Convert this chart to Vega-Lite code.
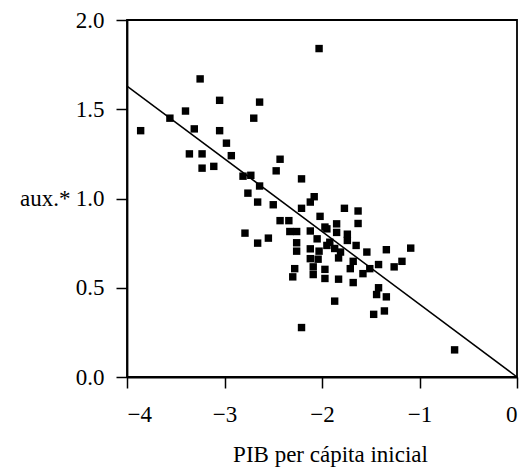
{
  "$schema": "https://vega.github.io/schema/vega-lite/v6.json",
  "width": 390,
  "height": 357,
  "autosize": {"type": "none"},
  "padding": {"left": 127, "top": 20, "right": 9, "bottom": 93},
  "background": "white",
  "config": {
    "view": {"stroke": "black", "strokeWidth": 1.8},
    "axis": {
      "grid": false,
      "domainColor": "black",
      "domainWidth": 1.8,
      "tickColor": "black",
      "tickWidth": 1.5,
      "tickSize": 11,
      "labelFont": "Liberation Serif",
      "labelFontSize": 23,
      "labelColor": "black",
      "titleFont": "Liberation Serif",
      "titleFontSize": 23,
      "titleFontWeight": "normal",
      "titleColor": "black"
    }
  },
  "layer": [
    {
      "data": {
        "values": [
          {"pib": -3.86, "aux": 1.38}, {"pib": -3.56, "aux": 1.45}, {"pib": -3.40, "aux": 1.49},
          {"pib": -3.25, "aux": 1.67}, {"pib": -3.31, "aux": 1.39}, {"pib": -3.05, "aux": 1.55},
          {"pib": -3.05, "aux": 1.38}, {"pib": -2.98, "aux": 1.31}, {"pib": -3.36, "aux": 1.25},
          {"pib": -3.23, "aux": 1.25}, {"pib": -2.93, "aux": 1.24}, {"pib": -3.23, "aux": 1.17},
          {"pib": -3.11, "aux": 1.18}, {"pib": -2.64, "aux": 1.54}, {"pib": -2.70, "aux": 1.45},
          {"pib": -2.43, "aux": 1.22}, {"pib": -2.47, "aux": 1.155}, {"pib": -2.81, "aux": 1.125},
          {"pib": -2.73, "aux": 1.13}, {"pib": -2.64, "aux": 1.07}, {"pib": -2.76, "aux": 1.03},
          {"pib": -2.66, "aux": 0.98}, {"pib": -2.50, "aux": 0.965}, {"pib": -2.21, "aux": 1.11},
          {"pib": -2.21, "aux": 0.945}, {"pib": -2.12, "aux": 0.98}, {"pib": -2.08, "aux": 1.01},
          {"pib": -2.03, "aux": 1.84}, {"pib": -2.02, "aux": 0.90}, {"pib": -1.77, "aux": 0.945},
          {"pib": -1.63, "aux": 0.93}, {"pib": -2.43, "aux": 0.876}, {"pib": -2.34, "aux": 0.876},
          {"pib": -2.79, "aux": 0.806}, {"pib": -2.66, "aux": 0.75}, {"pib": -2.55, "aux": 0.778},
          {"pib": -2.33, "aux": 0.815}, {"pib": -2.26, "aux": 0.815}, {"pib": -2.12, "aux": 0.818},
          {"pib": -1.97, "aux": 0.84}, {"pib": -2.05, "aux": 0.774}, {"pib": -2.26, "aux": 0.752},
          {"pib": -2.26, "aux": 0.705}, {"pib": -2.12, "aux": 0.718}, {"pib": -2.03, "aux": 0.705},
          {"pib": -1.95, "aux": 0.737}, {"pib": -2.12, "aux": 0.663}, {"pib": -2.04, "aux": 0.66},
          {"pib": -2.28, "aux": 0.607}, {"pib": -2.09, "aux": 0.617}, {"pib": -1.97, "aux": 0.603},
          {"pib": -2.09, "aux": 0.574}, {"pib": -1.97, "aux": 0.552}, {"pib": -2.30, "aux": 0.561},
          {"pib": -2.21, "aux": 0.277}, {"pib": -1.63, "aux": 0.86}, {"pib": -1.85, "aux": 0.858},
          {"pib": -1.95, "aux": 0.83}, {"pib": -1.85, "aux": 0.81}, {"pib": -1.74, "aux": 0.80},
          {"pib": -1.92, "aux": 0.755}, {"pib": -1.74, "aux": 0.765}, {"pib": -1.65, "aux": 0.737},
          {"pib": -1.87, "aux": 0.72}, {"pib": -1.81, "aux": 0.70}, {"pib": -1.54, "aux": 0.70},
          {"pib": -1.34, "aux": 0.713}, {"pib": -1.09, "aux": 0.722}, {"pib": -1.83, "aux": 0.667},
          {"pib": -1.68, "aux": 0.648}, {"pib": -1.18, "aux": 0.648}, {"pib": -1.42, "aux": 0.63},
          {"pib": -1.26, "aux": 0.617}, {"pib": -1.51, "aux": 0.607}, {"pib": -1.71, "aux": 0.607},
          {"pib": -1.58, "aux": 0.579}, {"pib": -1.83, "aux": 0.548}, {"pib": -1.68, "aux": 0.529},
          {"pib": -1.42, "aux": 0.50}, {"pib": -1.44, "aux": 0.462}, {"pib": -1.34, "aux": 0.449},
          {"pib": -1.87, "aux": 0.425}, {"pib": -1.36, "aux": 0.37}, {"pib": -1.47, "aux": 0.351},
          {"pib": -0.64, "aux": 0.152}
        ]
      },
      "mark": {"type": "square", "size": 55, "color": "black", "opacity": 1},
      "encoding": {
        "x": {
          "field": "pib", "type": "quantitative",
          "scale": {"domain": [-4, 0], "nice": false, "zero": false},
          "axis": {
            "values": [-4, -3, -2, -1, 0],
            "format": "d",
            "labelPadding": 15,
            "title": "PIB per cápita inicial",
            "titlePadding": 17,
            "titleX": 203
          }
        },
        "y": {
          "field": "aux", "type": "quantitative",
          "scale": {"domain": [0, 2], "nice": false},
          "axis": {
            "values": [0, 0.5, 1, 1.5, 2],
            "format": ".1f",
            "labelPadding": 12,
            "title": "aux.*",
            "titleAngle": 0,
            "titleAlign": "right",
            "titleBaseline": "middle",
            "titleX": -57,
            "titleY": 178
          }
        }
      }
    },
    {
      "data": {"values": [{"pib": -4, "aux": 1.63}, {"pib": 0, "aux": 0}]},
      "mark": {"type": "line", "color": "black", "strokeWidth": 1.5},
      "encoding": {
        "x": {"field": "pib", "type": "quantitative"},
        "y": {"field": "aux", "type": "quantitative"}
      }
    }
  ]
}
